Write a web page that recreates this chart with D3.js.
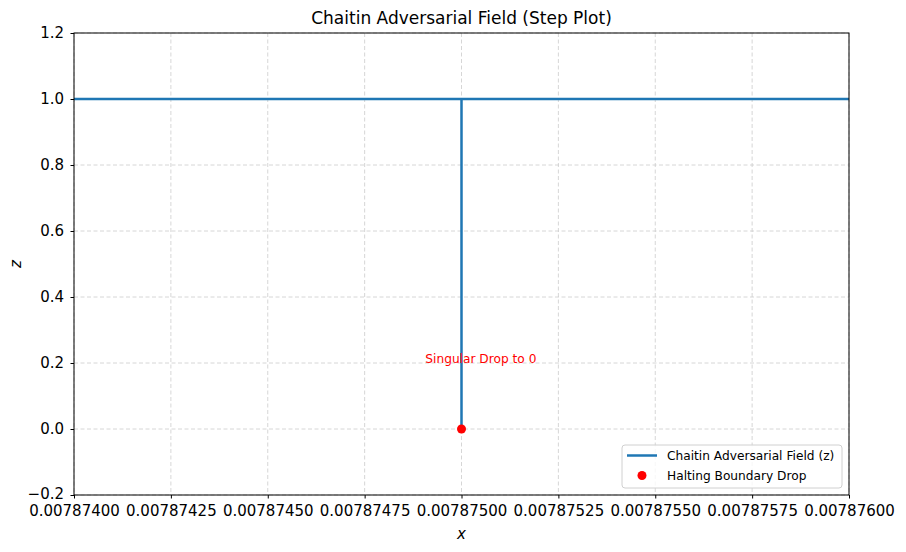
<!DOCTYPE html>
<html><head><meta charset="utf-8">
<script src="https://cdn.jsdelivr.net/npm/d3@7"></script>
<style>
body{margin:0;background:#fff;}
svg{font-family:"DejaVu Sans",sans-serif;}
</style></head>
<body>
<svg id="c" width="906" height="552"></svg>
<script>
const xValues = [0.007874, 0.0078745, 0.007875, 0.007875, 0.0078755, 0.007876];
const zValues = [1, 1, 0, 1, 1, 1];
const dropX = [0.007875];
const dropZ = [0];
const xTicks = [0.007874, 0.00787425, 0.0078745, 0.00787475, 0.007875, 0.00787525, 0.0078755, 0.00787575, 0.007876];
const yTicks = [-0.2, 0.0, 0.2, 0.4, 0.6, 0.8, 1.0, 1.2];
const labelText = "Singular Drop to 0";
const labelPos = [0.00787505, 0.2];

const svg = d3.select("#c");
const L = 74, R = 849, T = 33, B = 495;
const x = d3.scaleLinear().domain([0.007874, 0.007876]).range([L, R]);
const y = d3.scaleLinear().domain([-0.2, 1.2]).range([B, T]);

// grid
const g = svg.append("g");
g.selectAll("line.vx").data(xTicks).enter().append("line")
  .attr("x1", d => x(d)).attr("x2", d => x(d)).attr("y1", T).attr("y2", B)
  .attr("stroke", "#cccccc").attr("stroke-dasharray", "4,2.5").attr("stroke-width", 0.8);
g.selectAll("line.hy").data(yTicks).enter().append("line")
  .attr("y1", d => y(d)).attr("y2", d => y(d)).attr("x1", L).attr("x2", R)
  .attr("stroke", "#cccccc").attr("stroke-dasharray", "4,2.5").attr("stroke-width", 0.8);

// step line
const pts = xValues.map((v, i) => [v, zValues[i]]);
const line = d3.line().x(d => x(d[0])).y(d => y(d[1])).curve(d3.curveStepAfter);
svg.append("path").datum(pts).attr("d", line).attr("fill", "none")
  .attr("stroke", "#1f77b4").attr("stroke-width", 2.5);

// drop point
svg.selectAll("circle.d").data(dropX).enter().append("circle")
  .attr("cx", d => x(d)).attr("cy", (d, i) => y(dropZ[i])).attr("r", 4.5).attr("fill", "#ff0000");

svg.append("text").attr("x", x(labelPos[0])).attr("y", y(labelPos[1]))
  .attr("text-anchor", "middle").attr("fill", "#ff0000").attr("font-size", 12.2).text(labelText);

// axes
const fmt = d3.format(".8f");
const xa = svg.append("g").attr("transform", `translate(0,${B})`)
  .call(d3.axisBottom(x).tickValues(xTicks).tickFormat(fmt).tickSize(3.5).tickPadding(6.5).tickSizeOuter(0));
const ya = svg.append("g").attr("transform", `translate(${L},0)`)
  .call(d3.axisLeft(y).tickValues(yTicks).tickFormat(d => d3.format(".1f")(d).replace("-", "\u2212")).tickSize(3.5).tickPadding(6.5).tickSizeOuter(0));
[xa, ya].forEach(a => {
  a.select(".domain").remove();
  a.selectAll("text").attr("font-size", 15).attr("fill", "#000").style("font-family", '"DejaVu Sans",sans-serif');
  a.selectAll("line").attr("stroke", "#000");
});
xa.selectAll("text").attr("dy", "0.72em");
ya.selectAll("text").attr("dy", (d) => d === -0.2 ? "0.2em" : "0.3em");
svg.append("rect").attr("x", L).attr("y", T).attr("width", R - L).attr("height", B - T)
  .attr("fill", "none").attr("stroke", "#000").attr("stroke-width", 1);

// titles
svg.append("text").attr("x", (L + R) / 2).attr("y", 24).attr("text-anchor", "middle")
  .attr("font-size", 17).text("Chaitin Adversarial Field (Step Plot)");
svg.append("text").attr("x", (L + R) / 2).attr("y", 539).attr("text-anchor", "middle")
  .attr("font-size", 15).attr("font-style", "italic").text("x");
svg.append("text").attr("transform", `translate(21,${(T + B) / 2}) rotate(-90)`).attr("text-anchor", "middle")
  .attr("font-size", 15).attr("font-style", "italic").text("z");

// legend
const lg = svg.append("g").attr("transform", "translate(622,445)");
lg.append("rect").attr("width", 220).attr("height", 43).attr("rx", 3)
  .attr("fill", "#fff").attr("fill-opacity", 0.8).attr("stroke", "#d0d0d0");
lg.append("line").attr("x1", 5).attr("x2", 35).attr("y1", 10.5).attr("y2", 10.5)
  .attr("stroke", "#1f77b4").attr("stroke-width", 2.5);
lg.append("circle").attr("cx", 20).attr("cy", 30.5).attr("r", 4.5).attr("fill", "#ff0000");
lg.append("text").attr("x", 45).attr("y", 15).attr("font-size", 12.2).text("Chaitin Adversarial Field (z)");
lg.append("text").attr("x", 45).attr("y", 35).attr("font-size", 12.2).text("Halting Boundary Drop");
</script>
</body></html>
